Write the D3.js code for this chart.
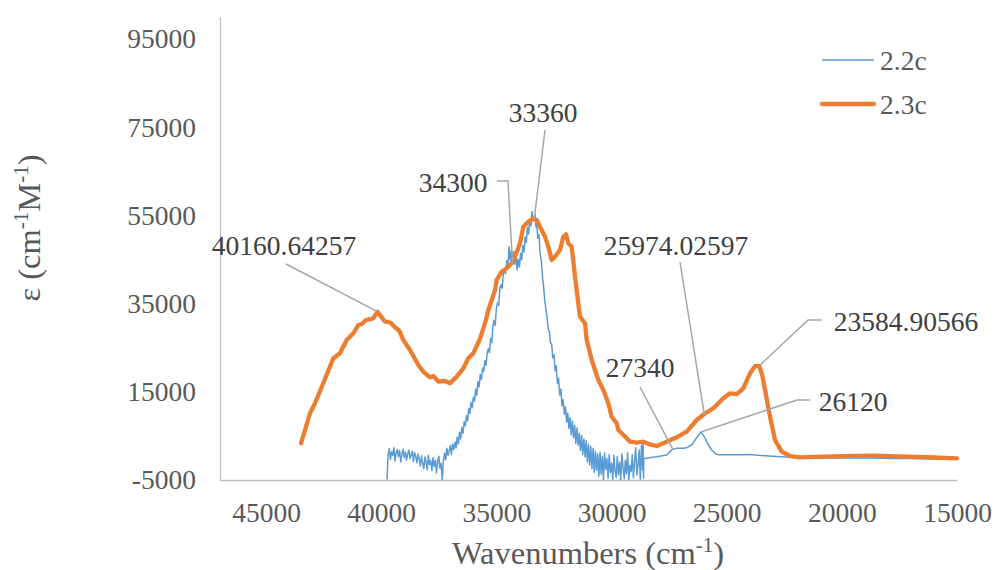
<!DOCTYPE html>
<html>
<head>
<meta charset="utf-8">
<script src="https://cdn.jsdelivr.net/npm/d3@7"></script>
<style>
  body { margin: 0; background: #fff; }
  svg { display: block; }
  svg text { font-family: "Times New Roman", "Liberation Serif", Tinos, "DejaVu Serif", "Noto Serif", serif; }
</style>
</head>
<body>
<svg id="chart" width="997" height="570"></svg>
<script>
// Axis ticks
const xTicks = [45000, 40000, 35000, 30000, 25000, 20000, 15000];
const yTicks = [-5000, 15000, 35000, 55000, 75000, 95000];
const seriesNames = ["2.2c", "2.3c"];

// 2.2c absorption spectrum: [wavenumber (cm-1), epsilon (cm-1 M-1)]
const series22 = [
  [39750,-4900],[39720,-1200],[39700,800],[39650,2100],[39600,-300],[39550,1400],[39500,600],
  [39450,2300],[39400,-700],[39350,1100],[39300,1900],[39250,300],[39200,1700],[39150,-900],
  [39100,800],[39050,2000],[39000,100],[38950,1300],[38900,-500],[38850,900],[38800,1800],
  [38750,-200],[38700,700],[38650,1500],[38600,-800],[38550,1200],[38500,400],[38450,-1100],
  [38400,900],[38350,-300],[38300,-1800],[38250,500],[38200,-1200],[38150,-2400],[38100,200],
  [38050,-900],[38000,-2700],[37950,600],[37900,-1500],[37850,-600],[37800,-2900],[37750,100],
  [37700,-1900],[37650,-500],[37600,-3400],[37550,-800],[37500,400],[37450,-2300],[37400,-1200],
  [37350,-5000],[37300,-600],[37250,1100],[37200,-400],[37150,2200],[37100,600],[37050,1500],
  [37000,2800],[36950,800],[36900,3100],[36850,1900],[36800,3600],[36750,2300],[36700,4700],
  [36650,3200],[36600,5800],[36550,4300],[36500,6900],[36450,5600],[36400,8200],[36350,7300],
  [36300,9600],[36250,8400],[36200,11200],[36150,10100],[36100,12600],[36050,11400],[36000,13800],
  [35950,12900],[35900,15600],[35850,14200],[35800,17300],[35750,16100],[35700,18900],[35650,17800],
  [35600,20400],[35550,19600],[35500,22100],[35450,21000],[35400,23700],[35350,24800],[35300,23900],
  [35250,27100],[35200,26200],[35150,29800],[35100,31200],[35050,30100],[35000,33900],[34950,35200],
  [34900,34600],[34850,38400],[34800,39300],[34750,38500],[34700,41600],[34650,42900],[34600,41800],
  [34550,44700],[34500,43600],[34450,47900],[34400,44800],[34350,47100],[34300,44200],[34250,46800],
  [34200,43900],[34150,46200],[34100,42700],[34050,45100],[34000,43300],[33950,46400],[33900,44900],
  [33850,48200],[33800,46700],[33750,50100],[33700,48900],[33650,52300],[33600,50800],[33550,54200],
  [33500,52600],[33450,55900],[33400,53700],[33360,54000],[33320,55200],[33280,52300],[33250,53400],
  [33200,49800],[33150,50600],[33100,46300],[33050,44800],[33000,41200],[32950,38900],[32900,35700],
  [32850,33800],[32800,31900],[32750,29300],[32700,28600],[32650,26100],[32600,25800],[32550,22700],
  [32500,23400],[32450,19800],[32400,20900],[32350,16900],[32300,18100],[32250,14300],[32200,15600],
  [32150,11800],[32100,13200],[32050,9900],[32000,11600],[31950,8100],[31900,10200],[31850,6700],
  [31800,9100],[31750,5200],[31700,8300],[31650,4600],[31600,7400],[31550,3300],[31500,6800],
  [31450,2900],[31400,5600],[31350,1700],[31300,5100],[31250,800],[31200,4300],[31150,200],
  [31100,3900],[31050,-900],[31000,3100],[30950,-1600],[30900,2600],[30850,-2400],[30800,2200],
  [30750,-3300],[30700,1500],[30650,-2800],[30600,900],[30550,-4200],[30500,1300],[30450,-3700],
  [30400,400],[30350,-4900],[30300,1100],[30250,-2600],[30200,-200],[30150,-4600],[30100,800],
  [30050,-3300],[30000,-1200],[29950,-5000],[29900,600],[29850,-2900],[29800,-4400],[29750,300],
  [29700,-3800],[29650,-1000],[29600,-5000],[29550,900],[29500,-2200],[29450,-4700],[29400,-500],
  [29350,-3600],[29300,1200],[29250,-4900],[29200,-1700],[29150,-3100],[29100,700],[29050,-4500],
  [29000,-800],[28950,2300],[28900,-3900],[28850,-1400],[28800,1800],[28750,-4800],[28700,2900],
  [28650,-2700],[28630,3500],[28610,-4600],[28600,-200],
  [28550,-100],[28300,100],[28040,280],[27800,500],[27600,670],[27450,1500],[27340,2000],
  [27170,2190],[26900,2200],[26740,2300],[26500,3100],[26300,4600],[26120,5900],[25950,4600],
  [25800,3000],[25650,1800],[25500,1000],[25350,700],[25000,700],[24500,750],[24000,800],
  [23500,550],[23000,400],[22600,300],[22000,100],[21000,0],[20000,0],[19000,50],[18000,-100],
  [17000,-150],[16000,-250],[15000,-300]
];

// 2.3c absorption spectrum: [wavenumber (cm-1), epsilon (cm-1 M-1)]
const series23 = [
  [43483,3320],[43092,10130],[42875,12400],[42515,16930],[42080,22600],[41790,23740],[41500,26750],
  [41212,28270],[40995,30150],[40848,30380],[40660,31290],[40344,31670],[40160.64257,33170],
  [40053,32420],[39836,30900],[39619,30770],[39402,29630],[39215,28860],[39041,26750],[38750,24480],
  [38389,21080],[38172,19560],[37882,18290],[37738,18590],[37521,17290],[37230,17450],[37013,16930],
  [36722,18430],[36435,20330],[36218,22600],[36000,23740],[35711,27000],[35494,30500],[35350,33500],
  [35203,35820],[35060,38000],[34986,40360],[34768,42240],[34551,43010],[34334,44150],[34191,45650],
  [33974,48680],[33830,52450],[33613,53580],[33396,54340],[33250,53970],[33106,52450],[32889,50180],
  [32745,47910],[32597,44900],[32455,45650],[32237,47160],[32094,50180],[31977,50720],[31877,48680],
  [31730,47910],[31586,41110],[31369,32040],[31151,30540],[31079,26750],[30861,22220],[30573,17680],
  [30355,15410],[30140,12400],[29993,9360],[29775,7860],[29705,6340],[29559,5590],[29341,4460],
  [29198,3690],[28907,3460],[28620,3690],[28300,3000],[28039,2710],[27604,3690],[27170,4680],
  [26735,5950],[26302,8610],[25974.02597,9970],[25581,11260],[25146,13530],[24856,14660],[24565,14500],
  [24278,15800],[23988,19200],[23770,20800],[23584.90566,20900],[23450,18600],[23336,15410],
  [23118,9360],[22901,4070],[22611,1420],[22250,440],[21816,150],[20804,300],[19500,450],
  [18634,510],[17186,300],[16000,100],[15000,-80]
];

// Peak positions annotated on each curve
const peaks22 = [34300, 33360, 27340, 26120];
const peaks23 = [40160.64257, 25974.02597, 23584.90566];

const colors = { "2.2c": "#5b9bd5", "2.3c": "#ed7d31" };
const serif = '"Times New Roman", "Liberation Serif", Tinos, "DejaVu Serif", "Noto Serif", serif';

const svg = d3.select("#chart");
const plot = { left: 220, right: 957, top: 17, bottom: 480 };

const x = d3.scaleLinear().domain([47000, 15000]).range([plot.left, plot.right]);
const y = d3.scaleLinear().domain([-5000, 100000]).range([plot.bottom, plot.top]);

svg.append("defs").append("clipPath").attr("id", "plotClip")
  .append("rect")
  .attr("x", plot.left).attr("y", plot.top - 5)
  .attr("width", plot.right - plot.left + 3)
  .attr("height", plot.bottom - plot.top + 5);

// Axes: plain grey lines with no tick marks
const xAxis = d3.axisBottom(x).tickValues(xTicks).tickSize(0).tickPadding(22)
  .tickFormat(d => String(d));
const yAxis = d3.axisLeft(y).tickValues(yTicks).tickSize(0).tickPadding(24)
  .tickFormat(d => String(d));

const gx = svg.append("g").attr("transform", `translate(0,${plot.bottom})`).call(xAxis);
const gy = svg.append("g").attr("transform", `translate(${plot.left},0)`).call(yAxis);
[gx, gy].forEach(g => {
  g.attr("font-family", serif);
  g.select(".domain").attr("stroke", "#bfbfbf").attr("stroke-width", 1.3);
  g.selectAll("text").attr("fill", "#595959").attr("font-size", 27.5);
});
gx.selectAll("text").attr("dy", "0.71em");

// Spectra
const line = d3.line().x(d => x(d[0])).y(d => y(d[1]));
const curves = svg.append("g").attr("clip-path", "url(#plotClip)");
curves.append("path").datum(series22)
  .attr("fill", "none").attr("stroke", colors["2.2c"]).attr("stroke-width", 1.5)
  .attr("stroke-linejoin", "round").attr("d", line);
curves.append("path").datum(series23)
  .attr("fill", "none").attr("stroke", colors["2.3c"]).attr("stroke-width", 4.3)
  .attr("stroke-linejoin", "round").attr("stroke-linecap", "round").attr("d", line);

// Peak labels with leader lines (text anchor, then leader bends, ending on the data point)
const labelLayout = {
  "40160.64257": { tx: 284, ty: 255, bends: [[286, 264]] },
  "34300":       { tx: 453, ty: 192, bends: [[497, 181], [508, 181]] },
  "33360":       { tx: 543, ty: 122, bends: [[545, 130]] },
  "25974.02597": { tx: 676, ty: 255, bends: [[680, 262]] },
  "27340":       { tx: 640, ty: 377, bends: [[640, 387]] },
  "26120":       { tx: 853, ty: 411, bends: [[810, 400], [797, 400]] },
  "23584.90566": { tx: 906, ty: 331, bends: [[822, 320], [808, 320]] }
};

const annotations = [
  ...peaks22.map(v => ({ v, pt: series22.find(d => d[0] === v) })),
  ...peaks23.map(v => ({ v, pt: series23.find(d => d[0] === v) }))
];

const ann = svg.append("g").attr("font-family", serif);
annotations.forEach(a => {
  const lay = labelLayout[String(a.v)];
  const pts = [...lay.bends, [x(a.pt[0]), y(a.pt[1])]];
  ann.append("path")
    .attr("d", d3.line()(pts))
    .attr("fill", "none").attr("stroke", "#a6a6a6").attr("stroke-width", 1.5);
  ann.append("text")
    .attr("x", lay.tx).attr("y", lay.ty)
    .attr("text-anchor", "middle")
    .attr("font-size", 27.5).attr("fill", "#404040")
    .text(String(a.v));
});

// Legend
const legend = svg.append("g").attr("font-family", serif);
seriesNames.forEach((name, i) => {
  const ly = 60 + i * 44;
  legend.append("line")
    .attr("x1", 822).attr("x2", 874).attr("y1", ly).attr("y2", ly)
    .attr("stroke", colors[name]).attr("stroke-width", i === 0 ? 1.5 : 4.3)
    .attr("stroke-linecap", i === 0 ? "butt" : "round");
  legend.append("text")
    .attr("x", 880).attr("y", ly).attr("dy", "0.35em")
    .attr("font-size", 27.5).attr("fill", "#595959")
    .text(name);
});

// Axis titles
const xTitle = svg.append("text")
  .attr("x", 588).attr("y", 564).attr("text-anchor", "middle")
  .attr("font-family", serif).attr("font-size", 32.5).attr("fill", "#595959");
xTitle.append("tspan").text("Wavenumbers (cm");
xTitle.append("tspan").attr("baseline-shift", "super").attr("font-size", 21).text("-1");
xTitle.append("tspan").text(")");

const yTitle = svg.append("text")
  .attr("transform", "translate(40,228) rotate(-90)")
  .attr("text-anchor", "middle")
  .attr("font-family", serif).attr("font-size", 32.5).attr("fill", "#595959");
yTitle.append("tspan").text("ε (cm");
yTitle.append("tspan").attr("baseline-shift", "super").attr("font-size", 21).text("-1");
yTitle.append("tspan").text("M");
yTitle.append("tspan").attr("baseline-shift", "super").attr("font-size", 21).text("-1");
yTitle.append("tspan").text(")");
</script>
</body>
</html>
